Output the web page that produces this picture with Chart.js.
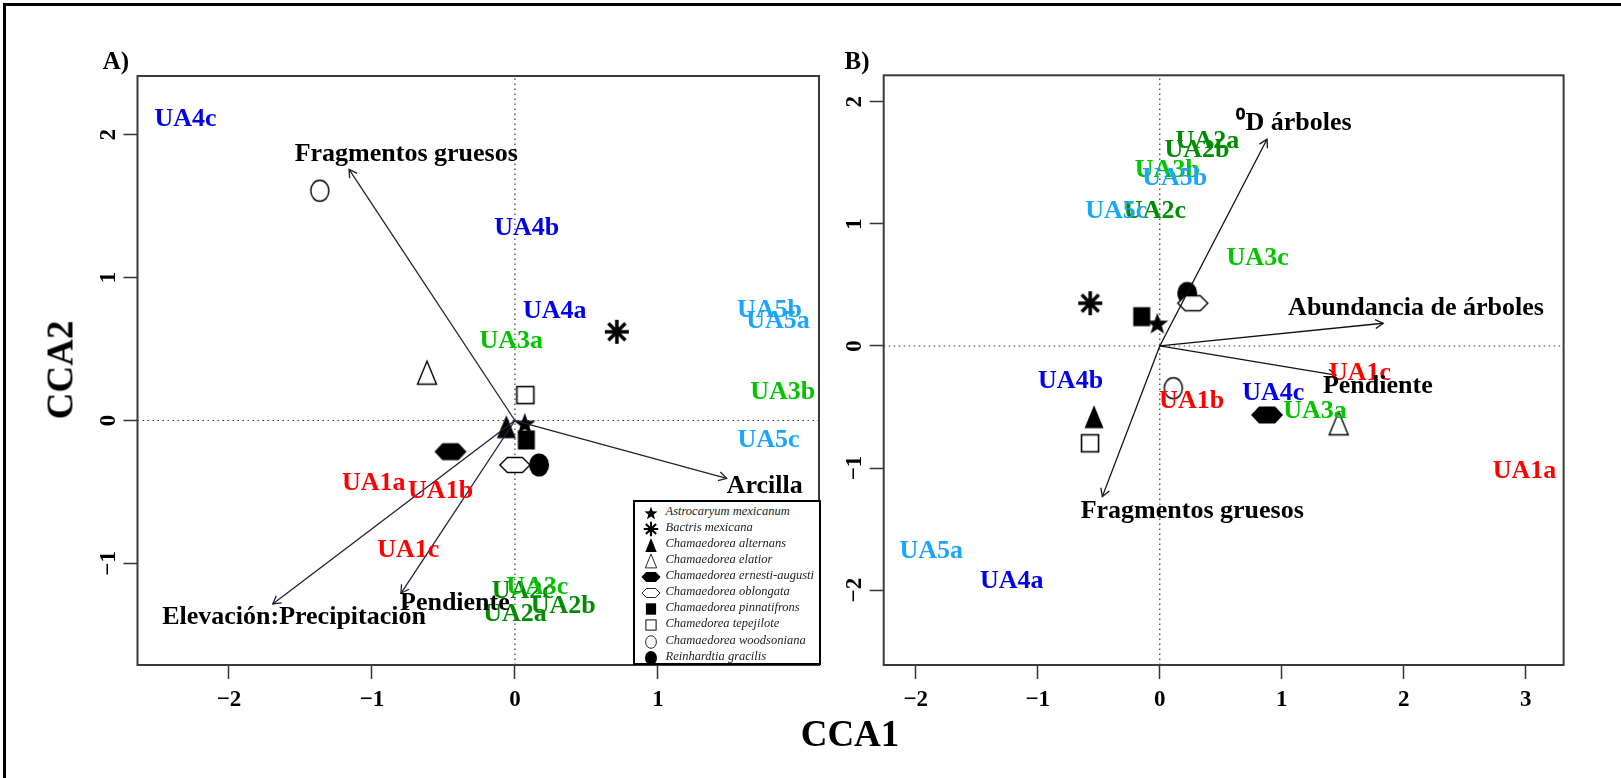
<!DOCTYPE html>
<html>
<head>
<meta charset="utf-8">
<script src="https://cdn.jsdelivr.net/npm/chart.js@4/dist/chart.umd.min.js"></script>
<style>
  body { margin: 0; background: #fff; }
  #wrap { position: relative; width: 1621px; height: 778px; overflow: hidden; font-family: "Liberation Serif", "Times New Roman", serif; }
  #frame { position: absolute; left: 3px; top: 3px; width: 1700px; height: 800px; border-top: 3px solid #000; border-left: 3px solid #000; }
  canvas { position: absolute; top: 0; }
  #cA { left: 0; }
  #cB { left: 830px; }
  .lbl { position: absolute; font-weight: bold; color: #000; white-space: nowrap; transform: translate(-50%, -50%); line-height: 1; }
  #legend { position: absolute; left: 633px; top: 500px; width: 188px; height: 165px; box-sizing: border-box; border: 2px solid #000; background: #fff; }
  .lrow { position: absolute; font-style: italic; font-size: 12.5px; color: #222; line-height: 16px; white-space: nowrap; }
  .lsym { position: absolute; }
</style>
</head>
<body>
<div id="wrap">
  <div id="frame"></div>
  <canvas id="cA" width="830" height="778"></canvas>
  <canvas id="cB" width="791" height="778"></canvas>
  <div class="lbl" style="left:116px; top:60px; font-size:25px;">A)</div>
  <div class="lbl" style="left:857px; top:60px; font-size:25px;">B)</div>
  <div class="lbl" style="left:850px; top:733px; font-size:37px;">CCA1</div>
  <div class="lbl" style="left:60px; top:370px; font-size:37px; transform: translate(-50%, -50%) rotate(-90deg);">CCA2</div>
  <div id="legend"></div>
</div>
<script>
// ---- panel A data ----
const xTicksA = [-2, -1, 0, 1];
const xTickLabelsA = ['−2', '−1', '0', '1'];
const yTicksA = [-1, 0, 1, 2];
const yTickLabelsA = ['−1', '0', '1', '2'];

const sitesA = ['UA1a', 'UA1b', 'UA1c', 'UA2a', 'UA2b', 'UA2c', 'UA3a', 'UA3b', 'UA3c',
                'UA4a', 'UA4b', 'UA4c', 'UA5a', 'UA5b', 'UA5c'];
const siteXA = [-0.987, -0.52, -0.746, 0.0, 0.338, 0.055, -0.026, 1.873, 0.157,
                0.278, 0.082, -2.304, 1.84, 1.78, 1.774];
const siteYA = [-0.44, -0.498, -0.906, -1.354, -1.303, -1.198, 0.551, 0.20, -1.165,
                0.761, 1.345, 2.11, 0.696, 0.773, -0.136];

const envA = ['Fragmentos gruesos', 'Arcilla', 'Elevación:Precipitación', 'Pendiente'];
const envTipXA = [-1.16, 1.481, -1.694, -0.797];
const envTipYA = [1.758, -0.405, -1.284, -1.209];
const envLabXA = [-0.76, 1.747, -1.545, -0.42];
const envLabYA = [1.865, -0.463, -1.378, -1.277];

// species order: same as legend
const species = ['Astrocaryum mexicanum', 'Bactris mexicana', 'Chamaedorea alternans', 'Chamaedorea elatior',
                 'Chamaedorea ernesti-augusti', 'Chamaedorea oblongata', 'Chamaedorea pinnatifrons',
                 'Chamedorea tepejilote', 'Chamaedorea woodsoniana', 'Reinhardtia gracilis'];
const speciesSym = ['star', 'asterisk', 'triFill', 'triOpen', 'hexFill', 'hexOpen', 'sqFill', 'sqOpen', 'ellOpen', 'ellFill'];
const spXA = [0.069, 0.713, -0.06, -0.615, -0.451, 0.0, 0.08, 0.073, -1.365, 0.169];
const spYA = [-0.02, 0.621, -0.043, 0.335, -0.218, -0.311, -0.136, 0.178, 1.608, -0.311];

// ---- panel B data ----
const xTicksB = [-2, -1, 0, 1, 2, 3];
const xTickLabelsB = ['−2', '−1', '0', '1', '2', '3'];
const yTicksB = [-2, -1, 0, 1, 2];
const yTickLabelsB = ['−2', '−1', '0', '1', '2'];

const sitesB = ['UA1a', 'UA1b', 'UA1c', 'UA2a', 'UA2b', 'UA2c', 'UA3a', 'UA3b', 'UA3c',
                'UA4a', 'UA4b', 'UA4c', 'UA5a', 'UA5b', 'UA5c'];
const siteXB = [2.989, 0.261, 1.641, 0.39, 0.305, -0.04, 1.272, 0.062, 0.802,
                -1.213, -0.731, 0.931, -1.873, 0.123, -0.356];
const siteYB = [-1.03, -0.456, -0.224, 1.673, 1.605, 1.10, -0.538, 1.44, 0.718,
                -1.93, -0.292, -0.387, -1.685, 1.373, 1.10];

const envB = ['⁰D árboles', 'Abundancia de árboles', 'Pendiente', 'Fragmentos gruesos'];
const envTipXB = [0.879, 1.831, 1.444, -0.471];
const envTipYB = [1.693, 0.186, -0.238, -1.234];
const envLabXB = [1.1, 2.1, 1.787, 0.266];
const envLabYB = [1.824, 0.309, -0.333, -1.357];

const spXB = [-0.02, -0.57, -0.539, 1.466, 0.879, 0.27, -0.148, -0.572, 0.111, 0.225];
const spYB = [0.186, 0.35, -0.579, -0.633, -0.565, 0.35, 0.24, -0.797, -0.346, 0.431];

const groupColors = { UA1: '#ff0000', UA2: '#008b00', UA3: '#00c400', UA4: '#0000ee', UA5: '#1aa5ff' };

// ---- symbols ----
function makeSymbol(kind, s) {
  const c = document.createElement('canvas');
  const W = Math.ceil(36 * s), H = Math.ceil(30 * s);
  c.width = W; c.height = H;
  const g = c.getContext('2d');
  g.translate(W / 2, H / 2);
  g.scale(s, s);
  g.fillStyle = '#000'; g.strokeStyle = '#000'; g.lineWidth = 1.4;
  const poly = (pts) => { g.beginPath(); pts.forEach((p, i) => i ? g.lineTo(p[0], p[1]) : g.moveTo(p[0], p[1])); g.closePath(); };
  if (kind === 'star') {
    const pts = [];
    for (let i = 0; i < 10; i++) {
      const r = i % 2 ? 4.7 : 11.5, a = -Math.PI / 2 + i * Math.PI / 5;
      pts.push([r * Math.cos(a), r * Math.sin(a) + 1]);
    }
    poly(pts); g.fill();
  } else if (kind === 'asterisk') {
    g.lineWidth = 3.5;
    g.beginPath();
    g.moveTo(0, -12); g.lineTo(0, 12);
    g.moveTo(-12, 0); g.lineTo(12, 0);
    g.moveTo(-8.5, -8.5); g.lineTo(8.5, 8.5);
    g.moveTo(-8.5, 8.5); g.lineTo(8.5, -8.5);
    g.stroke();
  } else if (kind === 'triFill' || kind === 'triOpen') {
    poly([[0, -11.5], [9.5, 11.5], [-9.5, 11.5]]);
    if (kind === 'triFill') g.fill(); else g.stroke();
  } else if (kind === 'hexFill') {
    poly([[-16, 0], [-8, -8.5], [8, -8.5], [16, 0], [8, 8.5], [-8, 8.5]]); g.fill();
  } else if (kind === 'hexOpen') {
    poly([[-15, 0], [-7.5, -7.5], [7.5, -7.5], [15, 0], [7.5, 7.5], [-7.5, 7.5]]);
    g.fillStyle = '#fff'; g.fill(); g.stroke();
  } else if (kind === 'sqFill') {
    g.fillRect(-8.5, -9.5, 17, 19);
  } else if (kind === 'sqOpen') {
    g.lineWidth = 1.6; g.strokeRect(-8.5, -8.5, 17, 17);
  } else if (kind === 'ellOpen') {
    g.beginPath(); g.ellipse(0, 0, 9, 10.5, 0, 0, Math.PI * 2); g.stroke();
  } else if (kind === 'ellFill') {
    g.beginPath(); g.ellipse(0, 0, 10, 11.5, 0, 0, Math.PI * 2); g.fill();
  }
  return c;
}

// ---- plugins ----
const plotBox = {
  id: 'plotBox',
  afterDatasetsDraw(chart) {
    const { ctx, chartArea: a } = chart;
    ctx.save();
    ctx.strokeStyle = '#3a3a3a'; ctx.lineWidth = 2;
    ctx.strokeRect(a.left, a.top, a.right - a.left, a.bottom - a.top);
    ctx.restore();
  }
};

const arrowHeads = {
  id: 'arrowHeads',
  afterDatasetsDraw(chart) {
    const ctx = chart.ctx;
    chart.data.datasets.forEach((ds, i) => {
      if (!ds.arrow) return;
      const [p0, p1] = chart.getDatasetMeta(i).data;
      const a = Math.atan2(p1.y - p0.y, p1.x - p0.x);
      const L = 9, h = Math.PI / 6;
      ctx.save();
      ctx.strokeStyle = ds.borderColor; ctx.lineWidth = ds.borderWidth;
      ctx.beginPath();
      ctx.moveTo(p1.x - L * Math.cos(a - h), p1.y - L * Math.sin(a - h));
      ctx.lineTo(p1.x, p1.y);
      ctx.lineTo(p1.x - L * Math.cos(a + h), p1.y - L * Math.sin(a + h));
      ctx.stroke();
      ctx.restore();
    });
  }
};

const textLabels = {
  id: 'textLabels',
  afterDatasetsDraw(chart) {
    const ctx = chart.ctx;
    chart.data.datasets.forEach((ds, i) => {
      if (!ds.texts) return;
      const meta = chart.getDatasetMeta(i);
      ctx.save();
      ctx.font = 'bold 26px "Liberation Serif"';
      ctx.textAlign = 'center'; ctx.textBaseline = 'middle';
      meta.data.forEach((pt, j) => {
        ctx.fillStyle = ds.textColors[j];
        ctx.fillText(ds.texts[j], pt.x, pt.y);
      });
      ctx.restore();
    });
  }
};

const tickFont = { family: 'Liberation Serif', size: 23, weight: 'bold' };

function buildChart(id, cfg) {
  const datasets = [];
  // zero lines
  datasets.push({ data: [{ x: cfg.xMin, y: 0 }, { x: cfg.xMax, y: 0 }], showLine: true, pointRadius: 0,
                  borderColor: '#333', borderWidth: 1.2, borderDash: [1.5, 3.5], order: 100 });
  datasets.push({ data: [{ x: 0, y: cfg.yMin }, { x: 0, y: cfg.yMax }], showLine: true, pointRadius: 0,
                  borderColor: '#333', borderWidth: 1.2, borderDash: [1.5, 3.5], order: 100 });
  // species points
  species.forEach((sp, i) => {
    datasets.push({ label: sp, data: [{ x: cfg.spX[i], y: cfg.spY[i] }], pointStyle: makeSymbol(speciesSym[i], 1),
                    pointRadius: 10, order: 50 + i });
  });
  // environmental arrows
  cfg.env.forEach((e, i) => {
    datasets.push({ data: [{ x: 0, y: 0 }, { x: cfg.tipX[i], y: cfg.tipY[i] }], showLine: true, pointRadius: 0,
                    borderColor: cfg.arrowColor, borderWidth: 1.3, arrow: true, order: 10 });
  });
  // site labels
  datasets.push({ data: cfg.sites.map((s, i) => ({ x: cfg.siteX[i], y: cfg.siteY[i] })), pointRadius: 0,
                  texts: cfg.sites, textColors: cfg.sites.map(s => groupColors[s.slice(0, 3)]), order: 5 });
  // env labels
  datasets.push({ data: cfg.env.map((e, i) => ({ x: cfg.labX[i], y: cfg.labY[i] })), pointRadius: 0,
                  texts: cfg.env, textColors: cfg.env.map(() => '#000'), order: 5 });

  return new Chart(document.getElementById(id), {
    type: 'scatter',
    data: { datasets },
    options: {
      responsive: false, animation: false, events: [],
      layout: { padding: cfg.padding },
      plugins: { legend: { display: false }, tooltip: { enabled: false } },
      scales: {
        x: {
          type: 'linear', min: cfg.xMin, max: cfg.xMax,
          afterBuildTicks: s => { s.ticks = cfg.xTicks.map(v => ({ value: v })); },
          afterFit: s => { s.height = 113; },
          grid: { drawOnChartArea: false, drawTicks: true, tickLength: 14, tickColor: '#333', tickWidth: 1.5, color: '#333' },
          border: { display: false },
          ticks: { font: tickFont, color: '#000', padding: 7, maxRotation: 0, autoSkip: false,
                   callback: v => cfg.xTickLabels[cfg.xTicks.indexOf(v)] }
        },
        y: {
          type: 'linear', min: cfg.yMin, max: cfg.yMax,
          afterBuildTicks: s => { s.ticks = cfg.yTicks.map(v => ({ value: v })); },
          afterFit: s => { s.width = cfg.yWidth; },
          grid: { drawOnChartArea: false, drawTicks: true, tickLength: 14, tickColor: '#333', tickWidth: 1.5, color: '#333' },
          border: { display: false },
          ticks: { font: tickFont, color: '#000', padding: 2, minRotation: 90, maxRotation: 90, crossAlign: 'center',
                   autoSkip: false, callback: v => cfg.yTickLabels[cfg.yTicks.indexOf(v)] }
        }
      }
    },
    plugins: [plotBox, arrowHeads, textLabels]
  });
}

buildChart('cA', {
  xMin: -2.64, xMax: 2.127, yMin: -1.711, yMax: 2.411,
  xTicks: xTicksA, xTickLabels: xTickLabelsA, yTicks: yTicksA, yTickLabels: yTickLabelsA,
  sites: sitesA, siteX: siteXA, siteY: siteYA,
  env: envA, tipX: envTipXA, tipY: envTipYA, labX: envLabXA, labY: envLabYA,
  spX: spXA, spY: spYA, arrowColor: '#1f1f38',
  padding: { top: 76, right: 10.5, bottom: 0, left: 0 }, yWidth: 137.5
});

buildChart('cB', {
  xMin: -2.263, xMax: 3.31, yMin: -2.613, yMax: 2.217,
  xTicks: xTicksB, xTickLabels: xTickLabelsB, yTicks: yTicksB, yTickLabels: yTickLabelsB,
  sites: sitesB, siteX: siteXB, siteY: siteYB,
  env: envB, tipX: envTipXB, tipY: envTipYB, labX: envLabXB, labY: envLabYB,
  spX: spXB, spY: spYB, arrowColor: '#111',
  padding: { top: 75.3, right: 57.4, bottom: 0, left: 0 }, yWidth: 53.7
});

// legend (HTML, inside panel A)
const legend = document.getElementById('legend');
species.forEach((sp, i) => {
  const cy = 510.7 + 16.1 * i - 500;
  const sym = makeSymbol(speciesSym[i], 0.6);
  sym.className = 'lsym';
  sym.style.left = (648.5 - 633 - sym.width / 2) + 'px';
  sym.style.top = (cy - sym.height / 2) + 'px';
  legend.appendChild(sym);
  const row = document.createElement('div');
  row.className = 'lrow';
  row.style.left = (663.5 - 633) + 'px';
  row.style.top = (cy - 8 - 2) + 'px';
  row.textContent = sp;
  legend.appendChild(row);
});
</script>
</body>
</html>
